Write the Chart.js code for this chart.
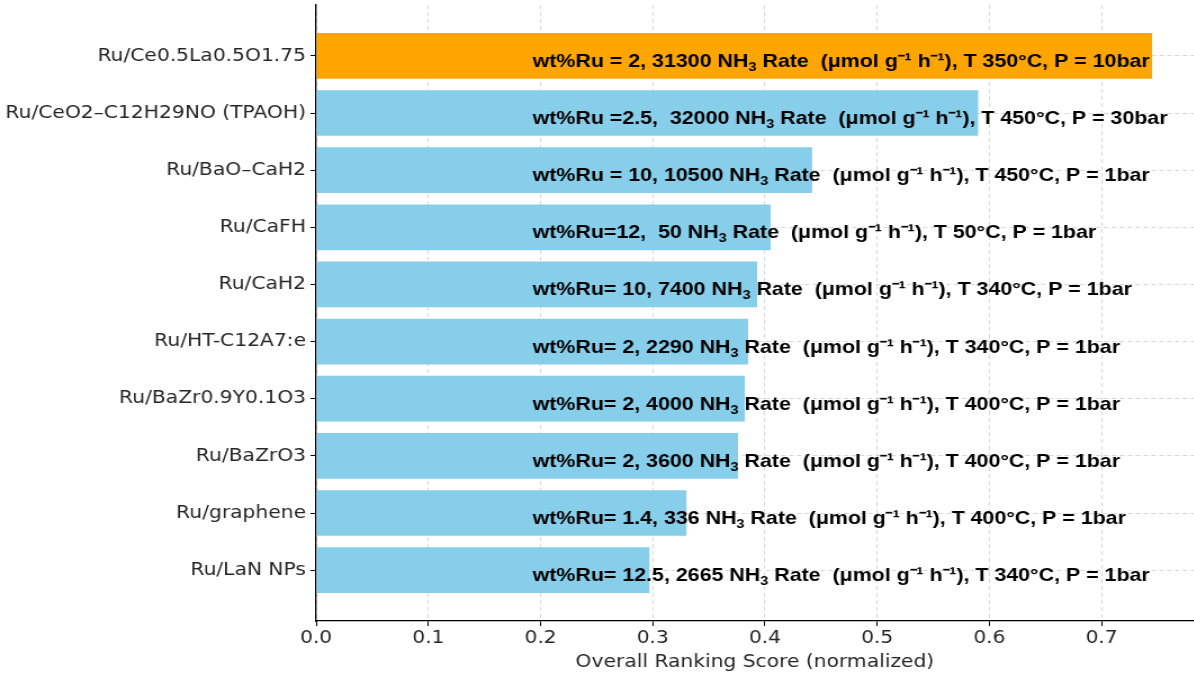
<!DOCTYPE html>
<html lang="en">
<head>
  <meta charset="UTF-8">
  <title>Ru catalysts ranking</title>
  <script src="https://cdn.jsdelivr.net/npm/chart.js"></script>
  <style>
    html, body { margin: 0; padding: 0; background: #fff; overflow: hidden; }
    /* the figure is drawn narrow and widened, as in the exported image */
    #rankChart { display: block; transform: scale(1.125, 1); transform-origin: 0 0; }
  </style>
</head>
<body>
  <canvas id="rankChart" width="1061" height="673"></canvas>

  <script>
    // Catalysts, top to bottom
    const catalysts = [
      'Ru/Ce0.5La0.5O1.75',
      'Ru/CeO2\u2013C12H29NO (TPAOH)',
      'Ru/BaO\u2013CaH2',
      'Ru/CaFH',
      'Ru/CaH2',
      'Ru/HT-C12A7:e',
      'Ru/BaZr0.9Y0.1O3',
      'Ru/BaZrO3',
      'Ru/graphene',
      'Ru/LaN NPs'
    ];
    const scores = [0.745, 0.590, 0.442, 0.405, 0.393, 0.385, 0.382, 0.376, 0.330, 0.297];

    // Pieces of the annotation written on each bar
    const loadings = ['wt%Ru = 2', 'wt%Ru =2.5', 'wt%Ru = 10', 'wt%Ru=12', 'wt%Ru= 10',
                      'wt%Ru= 2', 'wt%Ru= 2', 'wt%Ru= 2', 'wt%Ru= 1.4', 'wt%Ru= 12.5'];
    const rates = ['31300', ' 32000', '10500', ' 50', '7400', '2290', '4000', '3600', '336', '2665'];
    const temps = [350, 450, 450, 50, 340, 340, 400, 400, 400, 340];
    const pressures = [10, 30, 1, 1, 1, 1, 1, 1, 1, 1];

    const xTicks = [0, 0.1, 0.2, 0.3, 0.4, 0.5, 0.6, 0.7];
    const xTitle = 'Overall Ranking Score (normalized)';

    const best = Math.max(...scores);
    const tickFont = { family: 'DejaVu Sans', size: 18 };
    const gridColor = 'rgba(190,190,190,0.6)';

    // bold text over each bar, with the subscript in NH3
    const barNotes = {
      id: 'barNotes',
      afterDraw(chart) {
        const ctx = chart.ctx;
        const xs = chart.scales.x, ys = chart.scales.y;
        const big = 'bold 19px "Liberation Sans", Arial, sans-serif';
        const small = 'bold 13px "Liberation Sans", Arial, sans-serif';
        ctx.save();
        ctx.fillStyle = '#000';
        ctx.textBaseline = 'alphabetic';
        ctx.textAlign = 'left';
        catalysts.forEach((c, i) => {
          const y = ys.getPixelForValue(i) + 11;
          let x = xs.getPixelForValue(0.193);
          const head = `${loadings[i]}, ${rates[i]} NH`;
          const tail = ` Rate  (\u03bcmol g\u207b\u00b9 h\u207b\u00b9), T ${temps[i]}\u00b0C, P = ${pressures[i]}bar`;
          ctx.font = big;
          ctx.fillText(head, x, y);
          x += ctx.measureText(head).width;
          ctx.font = small;
          ctx.fillText('3', x, y + 4);
          x += ctx.measureText('3').width;
          ctx.font = big;
          ctx.fillText(tail, x, y);
        });
        ctx.restore();
      }
    };

    new Chart(document.getElementById('rankChart'), {
      type: 'bar',
      data: {
        datasets: [{
          data: scores.map((v, i) => ({ x: v, y: i })),
          backgroundColor: scores.map(v => v === best ? '#FFA500' : '#87CEEB'),
          borderWidth: 0,
          barPercentage: 0.8,
          categoryPercentage: 1.0
        }]
      },
      options: {
        indexAxis: 'y',
        responsive: false,
        animation: false,
        layout: { padding: { top: 5, right: 0, left: 0, bottom: 0 } },
        plugins: {
          legend: { display: false },
          tooltip: { enabled: false }
        },
        scales: {
          x: {
            type: 'linear',
            min: 0,
            max: 0.782,
            z: 1,
            afterBuildTicks: s => { s.ticks = xTicks.map(v => ({ value: v })); },
            afterFit: s => { s.height = 52; s.paddingLeft = 0; s.paddingRight = 0; },
            ticks: {
              font: tickFont,
              color: '#262626',
              padding: 2,
              maxRotation: 0,
              callback: v => v.toFixed(1)
            },
            grid: {
              color: gridColor,
              tickColor: '#000',
              tickLength: 5,
              tickBorderDash: []
            },
            border: { display: true, color: '#000', width: 1.3, dash: [4, 3] },
            title: {
              display: true,
              text: xTitle,
              font: tickFont,
              color: '#262626',
              padding: { top: 2, bottom: 0 }
            }
          },
          y: {
            type: 'linear',
            reverse: true,
            offset: false,
            min: -0.89,
            max: 9.89,
            z: 1,
            afterBuildTicks: s => { s.ticks = catalysts.map((c, i) => ({ value: i })); },
            afterFit: s => { s.width = 281; s.paddingTop = 0; s.paddingBottom = 0; },
            ticks: {
              font: tickFont,
              color: '#262626',
              padding: 4,
              callback: v => catalysts[v]
            },
            grid: {
              offset: false,
              color: gridColor,
              tickColor: '#000',
              tickLength: 5,
              tickBorderDash: []
            },
            border: { display: true, color: '#000', width: 1.3, dash: [4, 3] }
          }
        }
      },
      plugins: [barNotes]
    });
  </script>
</body>
</html>
